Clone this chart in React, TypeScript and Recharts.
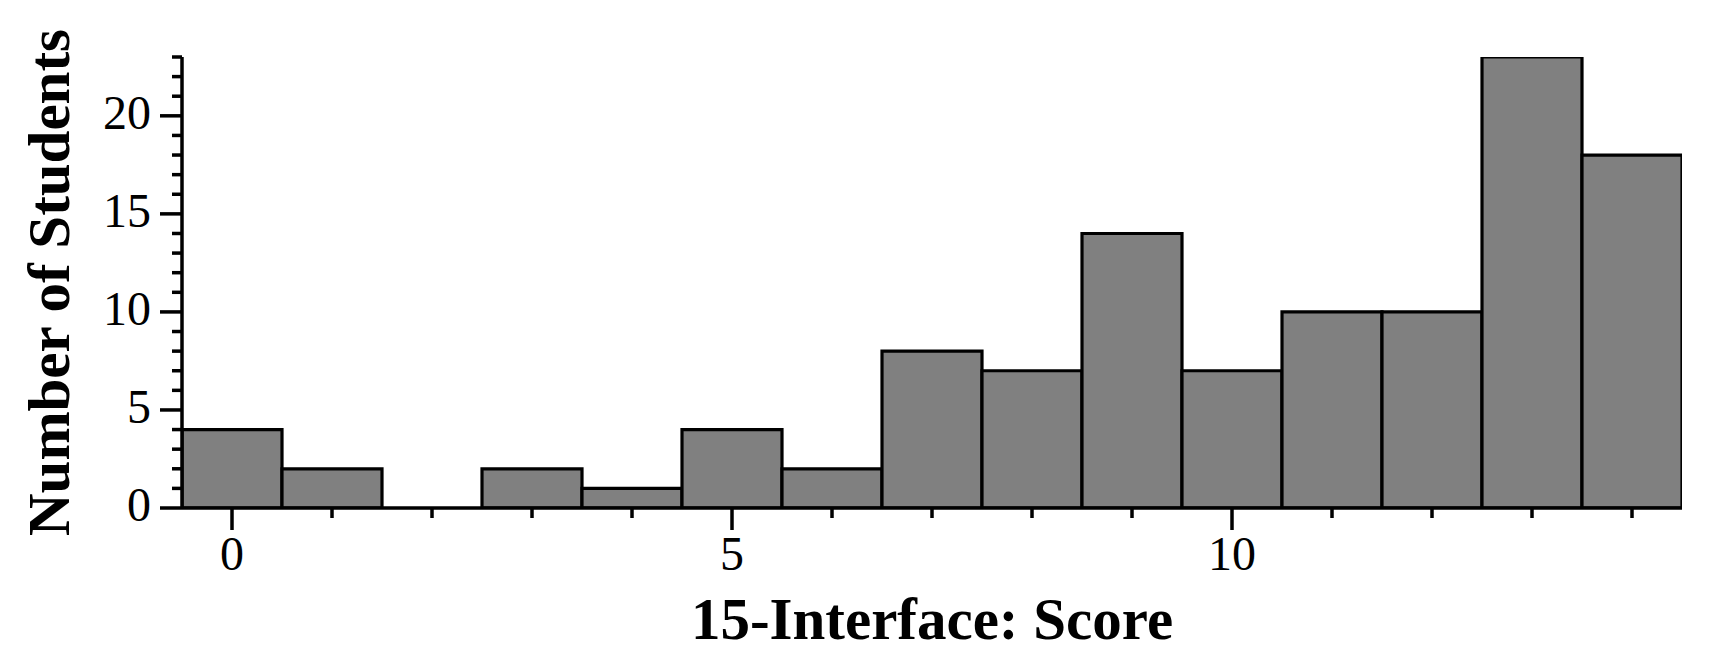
import React from "react";
import { ComposedChart, Bar, XAxis, YAxis, Label } from "recharts";

// histogram bins: score -> number of students
const scores = [0, 1, 2, 3, 4, 5, 6, 7, 8, 9, 10, 11, 12, 13, 14];
const students = [4, 2, 0, 2, 1, 4, 2, 8, 7, 14, 7, 10, 10, 23, 18];

const xTicks = [0, 1, 2, 3, 4, 5, 6, 7, 8, 9, 10, 11, 12, 13, 14];
const yTicks = [0, 1, 2, 3, 4, 5, 6, 7, 8, 9, 10, 11, 12, 13, 14, 15, 16, 17, 18, 19, 20, 21, 22, 23];

const data = scores.map((s, i) => ({ score: s, count: students[i] }));

const FONT = '"Liberation Serif", "Times New Roman", serif';

const XTick = (props: any) => {
  const { x, y, payload } = props;
  const major = payload.value % 5 === 0;
  return (
    <g>
      <line x1={x} x2={x} y1={y} y2={y + (major ? 22 : 10)} stroke="#000" strokeWidth={3.5} />
      {major && (
        <text x={x} y={y + 62} textAnchor="middle" fontFamily={FONT} fontSize={48} fill="#000">
          {payload.value}
        </text>
      )}
    </g>
  );
};

const YTick = (props: any) => {
  const { x, y, payload } = props;
  const major = payload.value % 5 === 0;
  return (
    <g>
      <line x1={x - (major ? 22 : 10)} x2={x} y1={y} y2={y} stroke="#000" strokeWidth={3.5} />
      {major && (
        <text x={x - 31} y={y + 13} textAnchor="end" fontFamily={FONT} fontSize={48} fill="#000">
          {payload.value}
        </text>
      )}
    </g>
  );
};

const YTitle = (props: any) => {
  const vb = props.viewBox;
  const cx = vb.x + 69;
  const cy = vb.y + vb.height / 2;
  return (
    <text x={cx} y={cy} transform={`rotate(-90 ${cx} ${cy})`} textAnchor="middle"
      fontFamily={FONT} fontWeight="bold" fontSize={59} fill="#000">
      Number of Students
    </text>
  );
};

const XTitle = (props: any) => {
  const vb = props.viewBox;
  return (
    <text x={vb.x + vb.width / 2} y={vb.y + 131} textAnchor="middle"
      fontFamily={FONT} fontWeight="bold" fontSize={59} fill="#000">
      15-Interface: Score
    </text>
  );
};

export default function App() {
  return (
    <div style={{ width: 1720, height: 670, background: "#fff" }}>
      <style>{"body{margin:0;}"}</style>
      <ComposedChart width={1720} height={670} data={data} barCategoryGap={0} barGap={0}
        margin={{ top: 57, right: 38, bottom: 0, left: 0 }}>
        <XAxis dataKey="score" type="number" domain={[-0.5, 14.5]} ticks={xTicks} interval={0}
          allowDataOverflow height={162} tickSize={0} tickMargin={0} tickLine={false}
          axisLine={{ stroke: "#000", strokeWidth: 3.5 }} tick={<XTick />}>
          <Label content={<XTitle />} />
        </XAxis>
        <YAxis type="number" domain={[0, 23]} ticks={yTicks} interval={0} allowDataOverflow
          width={182} tickSize={0} tickMargin={0} tickLine={false}
          axisLine={{ stroke: "#000", strokeWidth: 3.5 }} tick={<YTick />}>
          <Label content={<YTitle />} />
        </YAxis>
        <Bar dataKey="count" fill="#808080" stroke="#000" strokeWidth={3.2} isAnimationActive={false} />
      </ComposedChart>
    </div>
  );
}
